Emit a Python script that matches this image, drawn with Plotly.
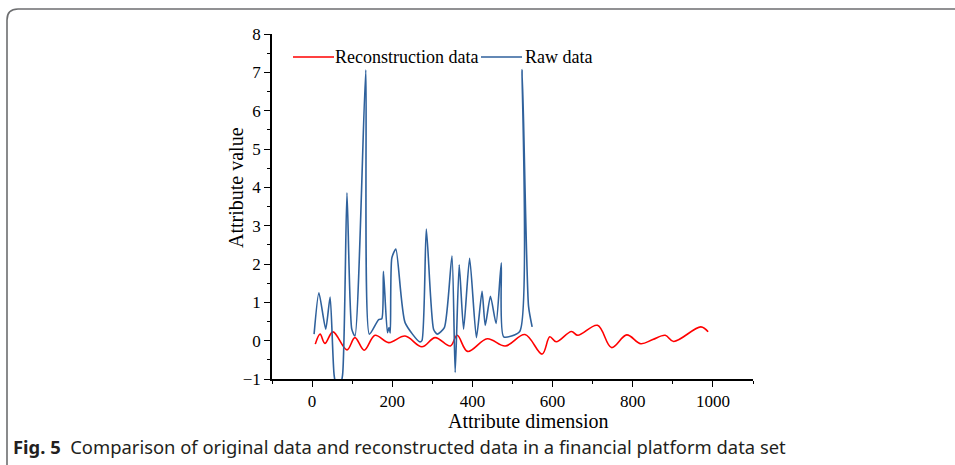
import plotly.graph_objects as go

# ---- data ----
raw_x = [5, 17, 34, 45, 55, 65, 76, 87, 99, 107, 134, 143, 166, 174, 178, 188, 192, 195,
         199, 209, 232, 268, 274, 285, 303, 312, 330, 349, 357, 367, 378, 393, 410, 424,
         432, 445, 459, 472, 478, 518, 524, 540, 549]
raw_y = [0.17, 1.25, 0.30, 1.14, -0.9, -1.4, -0.9, 3.86, 0.30, 0.12, 7.06, 0.17, 0.55, 0.57,
         1.81, 0.21, 0.34, 0.20, 2.16, 2.39, 0.47, -0.03, 0.0, 2.91, 0.30, 0.17, 0.34, 2.21,
         -0.83, 1.98, 0.30, 2.15, 0.08, 1.29, 0.40, 1.16, 0.45, 2.03, 0.10, 0.24, 7.07, 0.9,
         0.36]

rec_x = [8, 20, 32, 52, 87, 107, 130, 157, 191, 232, 274, 307, 345, 362, 388, 437, 482,
         531, 574, 593, 609, 647, 663, 712, 747, 785, 820, 850, 881, 902, 970, 988]
rec_y = [-0.09, 0.17, -0.07, 0.23, -0.24, 0.08, -0.25, 0.14, -0.05, 0.12, -0.16, 0.08,
         -0.14, 0.14, -0.28, 0.05, -0.14, 0.16, -0.35, 0.10, -0.03, 0.24, 0.14, 0.40,
         -0.18, 0.15, -0.08, 0.03, 0.14, -0.02, 0.36, 0.23]

x_ticks = [0, 200, 400, 600, 800, 1000]
y_ticks = [-1, 0, 1, 2, 3, 4, 5, 6, 7, 8]
series_names = ["Reconstruction data", "Raw data"]

SERIF = "Liberation Serif, Times New Roman, serif"
RED = "#ff0000"
BLUE = "#2f619c"

fig = go.Figure()
fig.add_trace(go.Scatter(x=rec_x, y=rec_y, mode="lines", name=series_names[0],
                         line=dict(color=RED, width=1.6, shape="spline", smoothing=1.0)))
fig.add_trace(go.Scatter(x=raw_x, y=raw_y, mode="lines", name=series_names[1],
                         line=dict(color=BLUE, width=1.6, shape="spline", smoothing=0.6)))

L, R, T, B = 272, 202, 34, 86
W, H = 955, 465
pw, ph = W - L - R, H - T - B

def px(x):
    return (x - L) / pw

def py(y):
    return (H - B - y) / ph

fig.update_layout(
    width=W, height=H,
    margin=dict(l=L, r=R, t=T, b=B),
    paper_bgcolor="white", plot_bgcolor="white",
    font=dict(family=SERIF, size=17, color="black"),
    showlegend=False,
    xaxis=dict(range=[-100, 1100], tickvals=x_ticks, ticks="outside", ticklen=6,
               tickwidth=1.3, tickcolor="black", showline=True, linecolor="black",
               linewidth=1.5, showgrid=False, zeroline=False,
               tickfont=dict(family=SERIF, size=17),
               minor=dict(dtick=100, tick0=0, ticks="outside", ticklen=3, tickwidth=1.1,
                          tickcolor="black", showgrid=False)),
    yaxis=dict(range=[-1, 8], tickvals=y_ticks, ticks="outside", ticklen=6,
               tickwidth=1.3, tickcolor="black", showline=True, linecolor="black",
               linewidth=1.5, showgrid=False, zeroline=False,
               tickfont=dict(family=SERIF, size=17),
               minor=dict(dtick=0.5, tick0=0, ticks="outside", ticklen=3, tickwidth=1.1,
                          tickcolor="black", showgrid=False)),
)

annotations = [
    dict(text="Attribute dimension", x=px(528), y=py(421), xref="paper", yref="paper",
         showarrow=False, xanchor="center", yanchor="middle",
         font=dict(family=SERIF, size=20, color="black")),
    dict(text="Attribute value", x=px(236), y=py(188), xref="paper", yref="paper",
         showarrow=False, xanchor="center", yanchor="middle", textangle=-90,
         font=dict(family=SERIF, size=20, color="black")),
    dict(text="<b>Fig. 5</b>  Comparison of original data and reconstructed data in a financial platform data set",
         x=px(11), y=py(446), xref="paper", yref="paper", showarrow=False,
         xanchor="left", yanchor="middle",
         font=dict(family="Noto Sans, sans-serif", size=18.4, color="#231f20")),
    # legend labels
    dict(text=series_names[0], x=px(333), y=py(57), xref="paper", yref="paper",
         showarrow=False, xanchor="left", yanchor="middle",
         font=dict(family=SERIF, size=18, color="black")),
    dict(text=series_names[1], x=px(523), y=py(57), xref="paper", yref="paper",
         showarrow=False, xanchor="left", yanchor="middle",
         font=dict(family=SERIF, size=18, color="black")),
]
fig.update_layout(annotations=annotations)

# legend sample lines
fig.add_shape(type="line", xref="paper", yref="paper", x0=px(293), x1=px(334),
              y0=py(57), y1=py(57), line=dict(color=RED, width=1.6))
fig.add_shape(type="line", xref="paper", yref="paper", x0=px(481), x1=px(522),
              y0=py(57), y1=py(57), line=dict(color=BLUE, width=1.6))

# figure frame (rounded top-left corner)
fig.add_shape(type="path", xref="paper", yref="paper", xsizemode="pixel", ysizemode="pixel",
              xanchor=0, yanchor=1,
              path="M -265,-460 L -265,14 Q -265,25 -254,25 L 700,25",
              line=dict(color="#6d6e70", width=1.6), layer="above")

fig.write_html("out.html", config={"displayModeBar": False},
               post_script="document.body.style.margin='0';")
